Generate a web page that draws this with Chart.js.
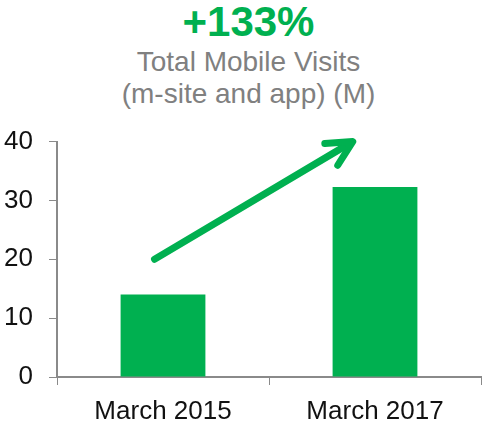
<!DOCTYPE html>
<html>
<head>
<meta charset="utf-8">
<script src="https://cdn.jsdelivr.net/npm/chart.js@4"></script>
<style>
  html, body { margin:0; padding:0; background:#fff; font-family:'Liberation Sans', Arial, sans-serif; }
  #head { height:110px; padding-left:14px; text-align:center; box-sizing:border-box; }
  #head .big { font-size:42px; line-height:44px; font-weight:bold; color:#00B050; }
  #head .sub { font-size:28px; line-height:32px; color:#808080; margin-top:2px; }
  #wrap { width:483px; height:311px; }
</style>
</head>
<body>
<div id="head"></div>
<div id="wrap"><canvas id="c"></canvas></div>
<script>
const categories = ['March 2015', 'March 2017'];
const visits = [14.0, 32.3];
const yTicks = [0, 10, 20, 30, 40];
const headline = '+133%';
const subtitleLines = ['Total Mobile Visits', '(m-site and app) (M)'];
// arrow ends in data units: [category index, value]
const arrowFrom = [-0.04, 20];
const arrowTo = [0.895, 40];

const GREEN = '#00B050';
const AXIS = '#8a8a8a';
const FONT = "'Liberation Sans', Arial, sans-serif";

document.getElementById('head').innerHTML =
  `<div class="big">${headline}</div><div class="sub">${subtitleLines.join('<br>')}</div>`;

const arrowPlugin = {
  id: 'growthArrow',
  afterDatasetsDraw(chart){
    const {ctx, scales:{x, y}} = chart;
    const x0 = x.getPixelForValue(arrowFrom[0]), y0 = y.getPixelForValue(arrowFrom[1]);
    const x1 = x.getPixelForValue(arrowTo[0]), y1 = y.getPixelForValue(arrowTo[1]);
    const ang = Math.atan2(y1 - y0, x1 - x0);
    const len = 28, spread = 0.47;
    ctx.save();
    ctx.strokeStyle = GREEN;
    ctx.lineWidth = 7;
    ctx.lineCap = 'round';
    ctx.lineJoin = 'round';
    ctx.beginPath();
    ctx.moveTo(x0, y0);
    ctx.lineTo(x1 - 3*Math.cos(ang), y1 - 3*Math.sin(ang));
    ctx.stroke();
    ctx.beginPath();
    ctx.moveTo(x1 - len*Math.cos(ang - spread), y1 - len*Math.sin(ang - spread));
    ctx.lineTo(x1, y1);
    ctx.lineTo(x1 - len*Math.cos(ang + spread), y1 - len*Math.sin(ang + spread));
    ctx.stroke();
    ctx.restore();
  }
};

new Chart(document.getElementById('c'), {
  type: 'bar',
  data: {
    labels: categories,
    datasets: [{ data: visits, backgroundColor: GREEN, barPercentage: 0.4, categoryPercentage: 1 }]
  },
  options: {
    responsive: true,
    maintainAspectRatio: false,
    animation: false,
    layout: { padding: { left: 3, right: 2, top: 19, bottom: 0 } },
    plugins: { legend: { display: false }, tooltip: { enabled: false } },
    scales: {
      x: {
        afterFit(axis){ axis.height = 44; },
        grid: { display: true, drawOnChartArea: false, drawTicks: true, tickLength: 8, color: AXIS, offset: true },
        border: { color: AXIS, width: 2 },
        ticks: { color: '#111', padding: 11, font: { family: FONT, size: 26 } }
      },
      y: {
        min: 0, max: 40,
        afterBuildTicks(axis){ axis.ticks = yTicks.map(v => ({ value: v })); },
        afterFit(axis){ axis.width = 54; },
        grid: { display: true, drawOnChartArea: false, drawTicks: true, tickLength: 8, color: AXIS },
        border: { color: AXIS, width: 2 },
        ticks: { color: '#111', padding: 16, font: { family: FONT, size: 26 } }
      }
    }
  },
  plugins: [arrowPlugin]
});
</script>
</body>
</html>
